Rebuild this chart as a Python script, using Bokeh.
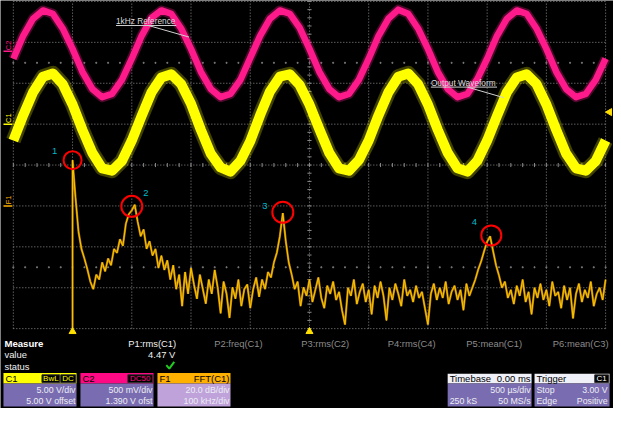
import numpy as np
from bokeh.core.properties import value
from bokeh.embed import file_html
from bokeh.models import Range1d
from bokeh.plotting import figure
from bokeh.resources import INLINE

# scope settings as shown on screen
TIME_PER_DIV = 0.5                 # ms (500 us/div, delay 0.00 ms)
C1_PER_DIV, C1_OFFSET = 5.0, 5.0   # V
C2_PER_DIV, C2_OFFSET = 0.5, 1.39  # V
F1_PER_DIV, F1_BOTTOM = 20.0, -60.0  # dB
F1_KHZ_PER_DIV = 100.0

# sample instants of the two channels (1/12 ms apart)
t_ms = np.linspace(-2.5, 2.5, 61)

# C2: 1 kHz reference, volts
c2_volts = [
    -0.09, 0.19, 0.40, 0.50, 0.46, 0.28, 0.03, -0.25, -0.46, -0.56, -0.52, -0.35,
    -0.09, 0.19, 0.41, 0.50, 0.46, 0.28, 0.03, -0.25, -0.46, -0.56, -0.52, -0.35,
    -0.08, 0.19, 0.40, 0.50, 0.46, 0.29, 0.03, -0.25, -0.46, -0.56, -0.52, -0.35,
    -0.09, 0.19, 0.40, 0.51, 0.46, 0.28, 0.03, -0.25, -0.46, -0.56, -0.52, -0.34,
    -0.09, 0.19, 0.40, 0.50, 0.46, 0.28, 0.03, -0.25, -0.46, -0.56, -0.52, -0.35,
    -0.09,
]

# C1: amplifier output, volts
c1_volts = [
    -2.0, 1.1, 3.9, 5.8, 6.2, 4.9, 2.4, -0.7, -3.5, -5.4, -5.7, -4.5,
    -2.0, 1.0, 3.9, 5.7, 6.1, 4.9, 2.5, -0.7, -3.6, -5.3, -5.8, -4.5,
    -2.1, 1.1, 4.0, 5.8, 6.1, 4.8, 2.4, -0.6, -3.5, -5.4, -5.7, -4.4,
    -2.0, 1.1, 3.9, 5.8, 6.2, 4.9, 2.4, -0.7, -3.5, -5.4, -5.8, -4.5,
    -2.0, 1.0, 3.9, 5.7, 6.1, 4.9, 2.4, -0.7, -3.6, -5.4, -5.7, -4.5,
    -2.0,
]

# F1: FFT of C1, dB, one bin every 5 kHz from 0 Hz
fft_db = [
    22.4, 4.0, -12.5, -21.0, -25.7, -31.0, -37.0, -40.7, -33.6, -36.0,
    -27.6, -32.0, -25.7, -29.0, -21.0, -23.0, -16.3, -19.5, -8.7, -4.0,
    -2.2, 0.6, -7.8, -14.8, -11.5, -21.0, -17.2, -24.3, -21.0, -30.4,
    -24.3, -31.3, -26.6, -36.0, -29.0, -40.7, -33.6, -49.0, -32.3, -43.0,
    -30.4, -38.4, -45.4, -33.6, -40.7, -47.8, -36.0, -43.0, -31.3, -39.8,
    -52.5, -37.0, -43.0, -54.8, -39.8, -45.4, -36.0, -49.0, -40.7, -38.4,
    -50.0, -40.7, -35.0, -44.5, -36.0, -40.7, -32.3, -35.0, -27.6, -22.8,
    -14.8, -3.5, -17.2, -27.6, -33.6, -40.7, -37.0, -49.0, -39.8, -44.0,
    -36.0, -47.0, -41.0, -35.0, -45.0, -50.0, -39.0, -43.0, -37.0, -46.0,
    -42.0, -51.0, -58.0, -40.0, -44.0, -36.0, -48.0, -42.0, -38.0, -47.0,
    -41.0, -53.0, -39.0, -45.0, -37.0, -44.0, -56.0, -40.0, -46.0, -38.0,
    -43.0, -49.0, -36.0, -44.0, -41.0, -47.0, -39.0, -45.0, -42.0, -50.0,
    -58.0, -43.0, -38.0, -46.0, -40.0, -45.0, -37.0, -48.0, -42.0, -39.0,
    -46.0, -41.0, -51.0, -38.0, -44.0, -40.0, -36.0, -31.0, -27.0, -22.0,
    -17.5, -14.8, -22.0, -29.0, -34.0, -40.0, -37.0, -45.0, -41.0, -48.0,
    -39.0, -44.0, -36.0, -47.0, -42.0, -53.0, -40.0, -45.0, -38.0, -46.0,
    -41.0, -49.0, -37.0, -44.0, -42.0, -50.0, -39.0, -46.0, -40.0, -55.0,
    -43.0, -38.0, -47.0, -41.0, -45.0, -37.0, -49.0, -43.0, -40.0, -46.0,
    -36.0,
]
fft_khz = 5 * np.arange(len(fft_db))

# circled peaks
peak_labels = ["1", "2", "3", "4"]
peak_khz = [0, 100, 355, 707]
peak_db = [22.4, -0.2, -3.1, -14.4]

# layout grid in screen-shot pixels
W, H = 621, 424
GL, GR, GT, GB = 13, 613, 1, 341
PX_DIV_X = (GR - GL) / 10
PX_DIV_Y = (GB - GT) / 8
FONT = value("Liberation Sans")


def x_span(left_value, per_div):
    return Range1d(left_value - GL / PX_DIV_X * per_div,
                   left_value + (W - GL) / PX_DIV_X * per_div)


def y_span(bottom_value, per_div):
    return Range1d(bottom_value - (H - GB) / PX_DIV_Y * per_div,
                   bottom_value + GB / PX_DIV_Y * per_div)


p = figure(width=613, height=408, x_range=Range1d(0, W), y_range=Range1d(H, 0),
           x_axis_type=None, y_axis_type=None, toolbar_location=None,
           output_backend="svg", min_border=0, outline_line_color=None,
           background_fill_color="black", border_fill_color="black")
p.extra_x_ranges = {
    "div": x_span(0, 1),
    "ms": x_span(-5 * TIME_PER_DIV, TIME_PER_DIV),
    "khz": x_span(-F1_KHZ_PER_DIV, F1_KHZ_PER_DIV),
}
p.extra_y_ranges = {
    "div": y_span(0, 1),
    "c1": y_span(-C1_OFFSET - 4 * C1_PER_DIV, C1_PER_DIV),
    "c2": y_span(-C2_OFFSET - 4 * C2_PER_DIV, C2_PER_DIV),
    "db": y_span(F1_BOTTOM, F1_PER_DIV),
}


def put_text(xs, ys, texts, color, size, align="left", bold=False, **kw):
    p.text(x=xs, y=ys, text=texts, text_color=color, text_font=FONT,
           text_font_size=size, text_align=align, text_baseline="middle",
           text_font_style="bold" if bold else "normal", **kw)


# graticule
grid = dict(x_range_name="div", y_range_name="div", line_color="#8a8a8a", line_width=1)
gx = np.arange(11)
gy = np.arange(9)
p.segment(x0=gx, y0=0, x1=gx, y1=8, line_dash="1 2", **grid)
p.segment(x0=0, y0=gy, x1=10, y1=gy, line_dash="1 2", **grid)
mx = np.arange(0, 10.01, 0.2)
my = np.arange(0, 8.01, 0.2)
p.segment(x0=mx, y0=3.95, x1=mx, y1=4.05, **grid)
p.segment(x0=4.965, y0=my, x1=5.035, y1=my, **grid)
p.scatter(x=np.tile(mx, 2), y=np.repeat([1.5, 6.5], len(mx)), marker="square",
          size=1, color="#7a7a7a", x_range_name="div", y_range_name="div")

# C2 and C1 traces (noise band drawn as a wide stroke)
p.line(t_ms, c2_volts, x_range_name="ms", y_range_name="c2", line_color="#ff1a8c",
       line_width=10, line_alpha=0.3, line_join="round")
p.line(t_ms, c2_volts, x_range_name="ms", y_range_name="c2", line_color="#ff1a8c",
       line_width=6.5, line_join="round")
p.line(t_ms, c1_volts, x_range_name="ms", y_range_name="c1", line_color="#d8d800",
       line_width=15, line_alpha=0.3, line_join="round")
p.line(t_ms, c1_volts, x_range_name="ms", y_range_name="c1", line_color="#ffff00",
       line_width=10, line_join="round")

# F1 spectrum, starting from the floor at DC
fx = np.r_[0, fft_khz]
fy = np.r_[F1_BOTTOM, fft_db]
p.line(fx, fy, x_range_name="khz", y_range_name="db", line_color="#b07a00", line_width=2.2)
p.line(fx, fy, x_range_name="khz", y_range_name="db", line_color="#ffc400", line_width=1)

# peak markers
p.scatter(peak_khz, peak_db, size=[18, 21, 21, 20], marker="circle", fill_color=None,
          line_color="#ff0000", line_width=2, x_range_name="khz", y_range_name="db")
for lab, kx, ky, dx, dy in zip(peak_labels, peak_khz, peak_db,
                               [-18, 14, -18, -17], [-9, -13, -6, -13]):
    put_text([kx], [ky], [lab], "#00b8c8", "9.5px", align="center",
             x_range_name="khz", y_range_name="db", x_offset=dx, y_offset=dy)

# trace callouts
put_text([117], [21], ["1kHz Reference"], "#dcdcdc", "8.3px")
put_text([436], [85.5], ["Output Waveform"], "#dcdcdc", "8.3px")
p.segment(x0=[117, 150, 436, 473], y0=[26, 26, 90, 90], x1=[178, 191, 503, 510],
          y1=[26, 38, 90, 101], line_color="#d0d0d0", line_width=1)

# channel ground markers on the left edge
for name, rng, col in [("C2", "c2", "#ff1a8c"), ("C1", "c1", "#ffff00"), ("F1", "db", "#ffb000")]:
    put_text([8], [0], [name], col, "7.5px", align="center", angle=np.pi / 2,
             y_range_name=rng, y_offset=-6)
    p.segment(x0=[3], y0=[0], x1=[12], y1=[0], y_range_name=rng, line_color=col, line_width=1.5)

# trigger position / FFT start / trigger level markers
p.scatter([0], [344], marker="triangle", size=7, color="#ffe000", x_range_name="ms")
p.scatter([0], [344], marker="triangle", size=7, color="#ffe000", x_range_name="khz")
p.scatter([617], [116], marker="triangle", size=7, angle=np.pi / 2, color="#ffe000")

# measurement table
col_right = [178, 265.6, 353.2, 440.8, 528.4, 616]
put_text([4], [356], ["Measure"], "white", "9.6px", bold=True)
put_text([col_right[0]], [356], ["P1:rms(C1)"], "#f0f0f0", "9.4px", align="right")
put_text(col_right[1:], [356] * 5,
         ["P2:freq(C1)", "P3:rms(C2)", "P4:rms(C4)", "P5:mean(C1)", "P6:mean(C3)"],
         "#8c8c8c", "9.4px", align="right")
put_text([4, 4], [368, 380.5], ["value", "status"], "#f0f0f0", "9.4px")
put_text([177], [368], ["4.47 V"], "#f0f0f0", "9.4px", align="right")
p.line([168, 171, 176], [379, 382.5, 375.5], line_color="#22cc22", line_width=2)


def panel(left, right, top, mid, bottom, head, body):
    p.quad(left=left, right=right, top=top, bottom=mid, fill_color=head, line_color=None)
    p.quad(left=left, right=right, top=mid, bottom=bottom, fill_color=body, line_color=None)


def badge(left, right, label, color):
    p.quad(left=left, right=right, top=389, bottom=397, fill_color="black", line_color="#303030")
    put_text([(left + right) / 2], [393], [label], color, "8px", align="center")


BODY = "#7a6cb0"
BODY_TXT = "#ececf4"
panel(3, 77, 387, 398, 422, "#ffff00", BODY)
put_text([5], [392.5], ["C1"], "black", "9.5px")
badge(42, 60, "BwL", "#ffff00")
badge(61, 76, "DC", "#ffff00")
put_text([76, 76], [404.5, 416], ["5.00 V/div", "5.00 V offset"], BODY_TXT, "8.8px", align="right")

panel(81, 155, 387, 398, 422, "#ff0a84", BODY)
put_text([83], [392.5], ["C2"], "black", "9.5px")
badge(129, 154, "DC50", "#ff0a84")
put_text([154, 154], [404.5, 416], ["500 mV/div", "1.390 V ofst"], BODY_TXT, "8.8px", align="right")

panel(159, 233, 387, 398, 422, "#ffb000", "#bfa2da")
put_text([161], [392.5], ["F1"], "black", "9.5px")
put_text([232], [392.5], ["FFT(C1)"], "black", "9.5px", align="right")
put_text([232, 232], [404.5, 416], ["20.0 dB/div", "100 kHz/div"], BODY_TXT, "8.8px", align="right")

panel(453, 538, 388, 398, 422, "#f0f0f8", BODY)
put_text([455], [393], ["Timebase"], "black", "9.5px")
put_text([537], [393], ["0.00 ms"], "black", "9.5px", align="right")
put_text([537], [404.5], ["500 µs/div"], BODY_TXT, "8.8px", align="right")
put_text([455], [416], ["250 kS"], BODY_TXT, "8.8px")
put_text([537], [416], ["50 MS/s"], BODY_TXT, "8.8px", align="right")

panel(541, 617, 388, 398, 422, "#f0f0f8", BODY)
put_text([543], [393], ["Trigger"], "black", "9.5px")
badge(602, 616, "C1", "white")
put_text([543, 543], [404.5, 416], ["Stop", "Edge"], BODY_TXT, "8.8px")
put_text([615, 615], [404.5, 416], ["3.00 V", "Positive"], BODY_TXT, "8.8px", align="right")

open("out.html", "w").write(file_html(p, INLINE))
